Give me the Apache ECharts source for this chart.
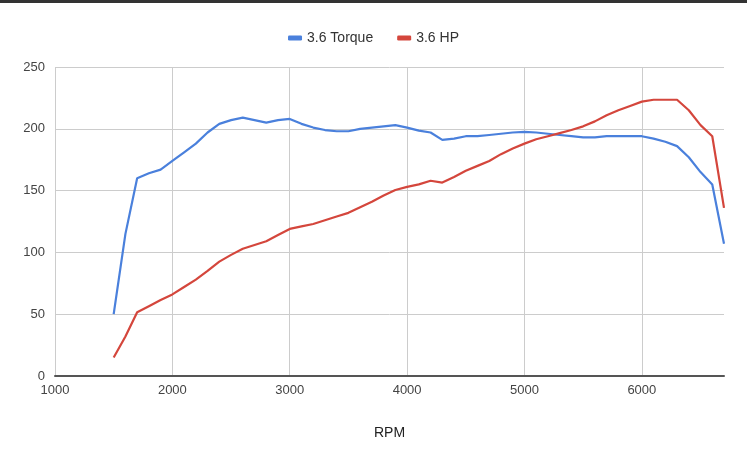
<!DOCTYPE html>
<html>
<head>
<meta charset="utf-8">
<script src="https://cdn.jsdelivr.net/npm/echarts@6/dist/echarts.min.js"></script>
<style>
  html, body { margin: 0; padding: 0; background: #fff; }
  #main { width: 747px; height: 460px; }
</style>
</head>
<body>
<div id="main"></div>
<script>
// rpm steps, every 100 from 1500 to 6700
let rpm = [];
for (let r = 1500; r <= 6700; r += 100) rpm.push(r);

let torque = [
  50, 115, 160, 164, 167, 174, 181, 188, 197, 204,
  207, 209, 207, 205, 207, 208, 204, 201, 199, 198,
  198, 200, 201, 202, 203, 201, 198.5, 197, 191, 192,
  194, 194, 195, 196, 197, 197.5, 197, 196, 195, 194,
  193, 193, 194, 194, 194, 194, 192, 189.5, 186, 177,
  165, 155, 107
];
let hp = [
  15, 32, 51.5, 56.5, 61.5, 66, 72, 78, 85, 92.5,
  98, 103, 106, 109, 114, 119, 121, 123, 126, 129,
  132, 136.5, 141, 146, 150.5, 153, 155, 158, 156.5, 161,
  166, 170, 174, 179.5, 184, 188, 191.5, 194, 196.5, 199,
  202, 206, 211, 215, 218.5, 222, 223.5, 223.5, 223.5, 215,
  203, 194, 136
];

let chart = echarts.init(document.getElementById('main'));
let font = 'Arial, "Liberation Sans", sans-serif';

chart.setOption({
  animation: false,
  textStyle: { fontFamily: font },
  graphic: [{
    type: 'rect', left: 0, top: 0,
    shape: { width: 747, height: 3 },
    style: { fill: '#333' }
  }],
  legend: {
    top: 26,
    left: 'center',
    itemGap: 24,
    itemWidth: 14,
    itemHeight: 5,
    icon: 'roundRect',
    textStyle: { fontSize: 14, color: '#333', fontFamily: font },
    data: ['3.6 Torque', '3.6 HP']
  },
  grid: { left: 55, right: 23, top: 67, bottom: 84 },
  xAxis: {
    type: 'value',
    min: 1000,
    max: 6700,
    interval: 1000,
    name: 'RPM',
    nameLocation: 'middle',
    nameGap: 50,
    nameTextStyle: { fontSize: 14, color: '#222', fontFamily: font },
    axisLine: { show: true, onZero: false, lineStyle: { color: '#555', width: 2 } },
    axisTick: { show: false },
    axisLabel: {
      fontSize: 13, color: '#444', showMaxLabel: false, margin: 8,
      formatter: v => String(v)
    },
    splitLine: {
      show: true,
      lineStyle: { color: ['#ccc', '#ccc', '#ccc', '#ccc', '#ccc', '#ccc', 'rgba(0,0,0,0)'] }
    }
  },
  yAxis: {
    type: 'value',
    min: 0,
    max: 250,
    interval: 50,
    axisLine: { show: false },
    axisTick: { show: false },
    axisLabel: { fontSize: 13, color: '#444', margin: 10 },
    splitLine: { lineStyle: { color: '#ccc' } }
  },
  series: [
    {
      name: '3.6 Torque',
      type: 'line',
      data: rpm.map((r, i) => [r, torque[i]]),
      showSymbol: false,
      color: '#4a80dc',
      lineStyle: { width: 2.2 }
    },
    {
      name: '3.6 HP',
      type: 'line',
      data: rpm.map((r, i) => [r, hp[i]]),
      showSymbol: false,
      color: '#d4463c',
      lineStyle: { width: 2.2 }
    }
  ]
});
</script>
</body>
</html>
